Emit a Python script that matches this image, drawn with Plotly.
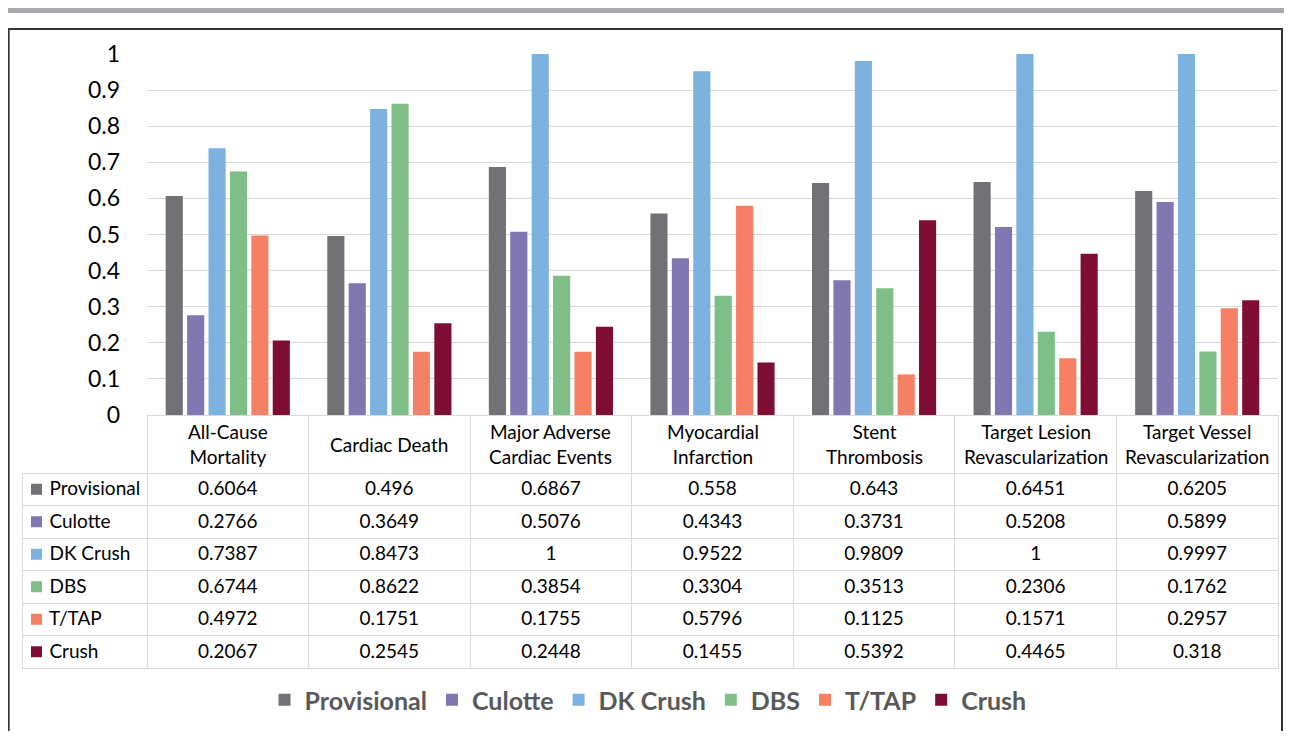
import plotly.graph_objects as go

# page body keeps its default 8px margin, so the figure sits at (8, 8);
# the visible page ends around x=1284
OFF = 8
W, H = 1276, 739 - 2 * OFF

categories = ['All-Cause Mortality', 'Cardiac Death', 'Major Adverse Cardiac Events',
              'Myocardial Infarction', 'Stent Thrombosis',
              'Target Lesion Revascularization', 'Target Vessel Revascularization']
header_labels = ['All-Cause<br>Mortality', 'Cardiac Death', 'Major Adverse<br>Cardiac Events',
                 'Myocardial<br>Infarction', 'Stent<br>Thrombosis',
                 'Target Lesion<br>Revascularization', 'Target Vessel<br>Revascularization']

series_names = ['Provisional', 'Culotte', 'DK Crush', 'DBS', 'T/TAP', 'Crush']
provisional = [0.6064, 0.496, 0.6867, 0.558, 0.643, 0.6451, 0.6205]
culotte = [0.2766, 0.3649, 0.5076, 0.4343, 0.3731, 0.5208, 0.5899]
dk_crush = [0.7387, 0.8473, 1, 0.9522, 0.9809, 1, 0.9997]
dbs = [0.6744, 0.8622, 0.3854, 0.3304, 0.3513, 0.2306, 0.1762]
t_tap = [0.4972, 0.1751, 0.1755, 0.5796, 0.1125, 0.1571, 0.2957]
crush = [0.2067, 0.2545, 0.2448, 0.1455, 0.5392, 0.4465, 0.318]

series_values = [provisional, culotte, dk_crush, dbs, t_tap, crush]
colors = ['#727176', '#8076B0', '#7DB2E0', '#7FBF87', '#F58066', '#7E0E33']

# page pixel -> paper fraction
px = lambda x: (x - OFF) / W
py = lambda y: 1 - (y - OFF) / H

plot_l, plot_r = 147, 1278
y_top, y_zero = 54, 415
head_h, row_h = 58, 32.5
lab_l = 22
rows_top = y_zero + head_h
rows_bot = rows_top + row_h * len(series_names)
clear = 'rgba(0,0,0,0)'

fig = go.Figure()
for name, vals, col in zip(series_names, series_values, colors):
    fig.add_trace(go.Bar(x=categories, y=vals, name=name, marker_color=col,
                         marker_line_width=0, xaxis='x', yaxis='y'))

def fmt(v):
    return ('%.4f' % v).rstrip('0').rstrip('.')

# data table: label column + one column per category
label_cells = ['\u00a0' * 4 + n for n in series_names]
value_cols = [[fmt(s[i]) for s in series_values] for i in range(len(categories))]
line_cols = [clear] + ['#D9D9D9'] * len(categories)
fig.add_trace(go.Table(
    domain=dict(x=[px(lab_l), px(plot_r)], y=[py(695), py(y_zero)]),
    columnwidth=[plot_l - lab_l] + [(plot_r - plot_l) / 7] * 7,
    header=dict(values=[''] * 8, height=head_h,
                line=dict(color=line_cols, width=1),
                fill=dict(color=clear)),
    cells=dict(values=[label_cells] + value_cols, height=row_h,
               align=['left'] + ['center'] * 7,
               line=dict(color='#D9D9D9', width=1),
               fill=dict(color=clear),
               font=dict(family='Lato', size=19, color='black')),
))

# colour keys inside the table's label column
fig.add_trace(go.Scatter(x=[14.5] * len(series_names), y=series_names, mode='markers',
                         marker=dict(symbol='square', size=11, color=colors, line_width=0),
                         xaxis='x2', yaxis='y2', showlegend=False, hoverinfo='skip'))

annotations = []
for cat, lab in zip(categories, header_labels):
    annotations.append(dict(x=cat, xref='x', y=py(y_zero + head_h / 2), yref='paper',
                            text=lab, showarrow=False, yanchor='middle',
                            font=dict(family='Lato', size=19, color='black')))

shapes = [
    dict(type='rect', xref='paper', yref='paper', x0=0, x1=1.0, y0=py(13), y1=py(8),
         fillcolor='#A7A9AC', line=dict(width=0)),
    dict(type='rect', xref='paper', yref='paper', x0=0.0005, x1=px(1282), y0=-0.05, y1=py(29),
         line=dict(color='#333333', width=2)),
]

fig.update_layout(
    width=W, height=H,
    margin=dict(l=0, r=0, t=0, b=0, autoexpand=False),
    paper_bgcolor='white', plot_bgcolor='white',
    barmode='group', bargap=0.205, bargroupgap=0.2,
    font=dict(family='Lato', color='black'),
    xaxis=dict(domain=[px(plot_l), px(plot_r)], showticklabels=False, showgrid=False,
               zeroline=False, showline=False, anchor='y', automargin=False),
    yaxis=dict(domain=[py(y_zero), py(y_top)], range=[0, 1], dtick=0.1,
               showgrid=True, gridcolor='#D9D9D9', gridwidth=1, zeroline=False,
               tickfont=dict(family='Lato', size=23, color='black'),
               ticks='', ticklabelstandoff=26, anchor='x', automargin=False),
    xaxis2=dict(domain=[px(lab_l), px(plot_l)], range=[0, plot_l - lab_l], visible=False,
                anchor='y2', fixedrange=True),
    yaxis2=dict(domain=[py(rows_bot), py(rows_top)], type='category',
                categoryarray=series_names, range=[len(series_names) - 0.5, -0.5],
                visible=False, anchor='x2', fixedrange=True),
    legend=dict(orientation='h', x=px(648), xanchor='center', y=py(700), yanchor='middle',
                font=dict(family='Lato', size=25, color='#595959', weight='bold'),
                itemwidth=30, traceorder='normal'),
    annotations=annotations,
    shapes=shapes,
)

fig.write_html('out.html')
